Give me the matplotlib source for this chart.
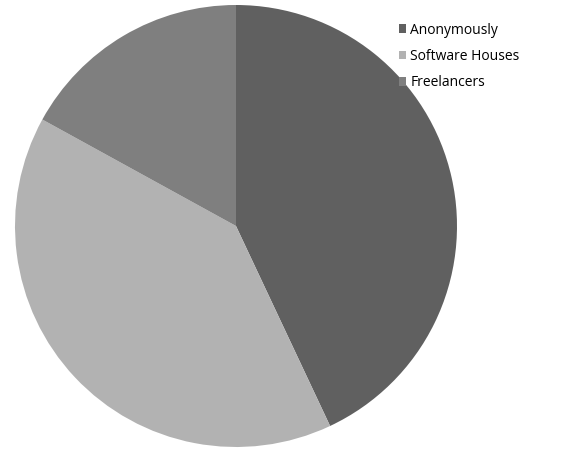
import matplotlib.pyplot as plt

labels = ['Anonymously', 'Software Houses', 'Freelancers']
values = [43, 40, 17]
colors = ['#606060', '#b2b2b2', '#7f7f7f']

plt.rcParams['font.family'] = ['Open Sans', 'DejaVu Sans']

fig = plt.figure(figsize=(5.68, 4.5), dpi=100)
ax = fig.add_axes([15 / 568, 3 / 450, 442 / 568, 442 / 450])
wedges, _ = ax.pie(values, colors=colors, startangle=90, counterclock=False,
                   radius=1, wedgeprops={'linewidth': 0})
ax.set_xlim(-1, 1)
ax.set_ylim(-1, 1)
ax.set_aspect('equal')
ax.axis('off')

fig.legend(wedges, labels, loc='upper left', bbox_to_anchor=(393 / 568, 1 - 17 / 450),
           frameon=False, fontsize=10, handlelength=0.55, handleheight=0.55,
           handletextpad=0.3, labelspacing=0.82, borderaxespad=0)

fig.savefig('out.png', dpi=100)
